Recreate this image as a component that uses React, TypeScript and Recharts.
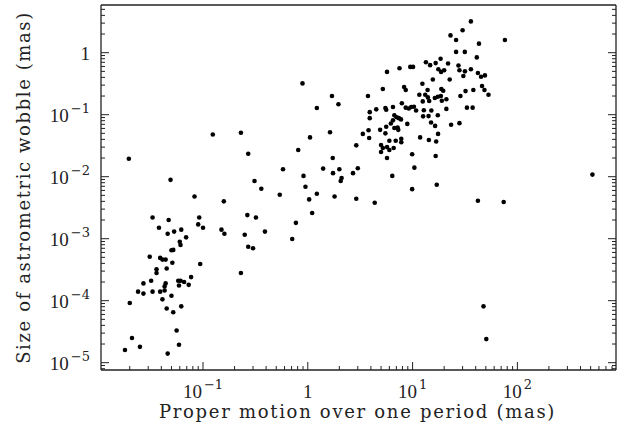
import React from 'react';
import { ScatterChart, Scatter, XAxis, YAxis } from 'recharts';

// proper motion over one period (mas)
const motion = [
  0.89, 36, 30, 23, 26, 43, 76, 26, 31.5, 41,
  13.4, 14.7, 16.6, 18.5, 21.8, 27.4, 17.6, 18.7, 20, 28,
  31.6, 36, 30.5, 42, 45, 49, 7.5, 9.5, 10.1, 5.7,
  15.6, 22.6, 12.4, 5.2, 8.3, 8.6, 13.9, 18.8, 19.6, 32,
  38, 46, 48.5, 53, 1.7, 3.75, 11.6, 13.2, 14, 14.4,
  12.5, 16.3, 17.4, 18.6, 19, 21, 28.6, 1.96, 1.22, 3.9,
  4.5, 5.5, 5.6, 6.5, 7.9, 8.6, 9.2, 9.7, 10.3, 10.8,
  3.9, 6.7, 7.05, 7.4, 7.75, 6.5, 6.2, 8.9, 5.6, 4.9,
  3.8, 3.35, 5.5, 6.7, 7.2, 7.3, 12.8, 14.2, 12.6, 15.1,
  17.4, 15, 16.4, 21, 23.3, 28, 33, 37.4, 1.63, 1.05,
  3.85, 7.8, 6.9, 7.8, 6, 5.0, 5.2, 5.0, 5.7, 6.0,
  6.6, 5.7, 11.8, 14.3, 16.8, 17.5, 2.9, 1.73, 9.9, 16.6,
  0.91, 0.95, 1.4, 1.74, 2.0, 2.1, 2.06, 2.7, 3.0, 6.4,
  10.4, 9.9, 17, 520, 1.03, 1.22, 1.8, 2.9, 4.35, 42,
  74, 1.1, 47.5, 50.5,
  0.0196, 0.124, 0.23, 0.27, 0.81, 0.58, 0.31, 0.36, 0.54, 0.158,
  0.083, 0.049, 0.033, 0.047, 0.092, 0.265, 0.32, 0.038, 0.062, 0.09,
  0.1, 0.046, 0.053, 0.069, 0.06, 0.061, 0.05, 0.052, 0.031, 0.039,
  0.041, 0.044, 0.051, 0.094, 0.036, 0.036, 0.045, 0.077, 0.032, 0.058,
  0.061, 0.066, 0.073, 0.059, 0.044, 0.043, 0.027, 0.024, 0.027, 0.033,
  0.039, 0.043, 0.05, 0.041, 0.02, 0.045, 0.062, 0.052, 0.056, 0.059,
  0.021, 0.025, 0.018, 0.046, 0.15, 0.16, 0.25, 0.27, 0.3, 0.39,
  0.71, 0.77, 0.23,
];

// size of astrometric wobble (mas)
const wobble = [
  0.32, 3.2, 2.3, 1.9, 1.6, 1.4, 1.6, 1.03, 1.03, 0.84,
  0.7, 0.63, 0.68, 0.8, 0.67, 0.62, 0.54, 0.49, 0.52, 0.52,
  0.5, 0.54, 0.42, 0.47, 0.41, 0.43, 0.56, 0.59, 0.59, 0.49,
  0.37, 0.37, 0.315, 0.26, 0.28, 0.25, 0.25, 0.26, 0.244, 0.24,
  0.25, 0.29, 0.25, 0.21, 0.2, 0.2, 0.21, 0.21, 0.19, 0.166,
  0.164, 0.186, 0.195, 0.2, 0.168, 0.177, 0.2, 0.147, 0.128, 0.11,
  0.122, 0.128, 0.12, 0.133, 0.153, 0.13, 0.126, 0.133, 0.134, 0.117,
  0.088, 0.098, 0.091, 0.088, 0.084, 0.081, 0.072, 0.071, 0.064, 0.057,
  0.056, 0.049, 0.05, 0.061, 0.062, 0.057, 0.118, 0.095, 0.094, 0.117,
  0.098, 0.075, 0.066, 0.124, 0.069, 0.073, 0.13, 0.13, 0.052, 0.043,
  0.042, 0.041, 0.038, 0.036, 0.038, 0.0325, 0.029, 0.025, 0.03, 0.027,
  0.029, 0.02, 0.043, 0.039, 0.037, 0.049, 0.032, 0.02, 0.023, 0.0216,
  0.0103, 0.0069, 0.0135, 0.0114, 0.0132, 0.0095, 0.0085, 0.0114, 0.0137, 0.0103,
  0.014, 0.0063, 0.0074, 0.0108, 0.0043, 0.0053, 0.0048, 0.0044, 0.0038, 0.0041,
  0.0039, 0.0026, 8.1e-5, 2.4e-5,
  0.0195, 0.048, 0.051, 0.0235, 0.027, 0.0132, 0.0085, 0.0064, 0.0051, 0.004,
  0.0048, 0.0089, 0.0022, 0.002, 0.0022, 0.0024, 0.0022, 0.0015, 0.0014, 0.0017,
  0.0015, 0.0012, 0.0013, 0.00105, 0.00089, 0.00079, 0.00065, 0.00066, 0.00051, 0.00049,
  0.00046, 0.00046, 0.00041, 0.00039, 0.00032, 0.00028, 0.00033, 0.00024, 0.00021, 0.00021,
  0.00021, 0.0002, 0.00018, 0.000176, 0.00019, 0.00017, 0.00019, 0.00014, 0.00013, 0.00014,
  0.00014, 0.000146, 0.00012, 0.000105, 9.2e-5, 7.5e-5, 8.1e-5, 6.5e-5, 3.3e-5, 1.95e-5,
  2.5e-5, 1.8e-5, 1.6e-5, 1.4e-5, 0.0014, 0.0012, 0.00116, 0.00074, 0.0007, 0.0013,
  0.00099, 0.0018, 0.00028,
];

const xDecades = [0.01, 0.1, 1, 10, 100];
const yDecades = [1e-6, 1e-5, 1e-4, 1e-3, 1e-2, 1e-1, 1];
const xDomain: [number, number] = [0.01063, 873];
const yDomain: [number, number] = [7.62e-6, 5.88];

const logTicks = (decades: number[], domain: [number, number]) =>
  decades
    .flatMap((d) => [1, 2, 3, 4, 5, 6, 7, 8, 9].map((m) => m * d))
    .filter((v) => v >= domain[0] && v <= domain[1]);

const xTicks = logTicks(xDecades, xDomain);
const yTicks = logTicks(yDecades, yDomain);

const points = motion.map((x, i) => ({ x, y: wobble[i] }));

const INK = '#222';
const TICK_FONT = '"Liberation Serif", serif';
const TITLE_FONT = '"DejaVu Serif", serif';

const isMajor = (v: number) => {
  const l = Math.log10(v);
  return Math.abs(l - Math.round(l)) < 1e-6;
};

const PowerLabel = ({ v, x, y, anchor }: any) => {
  const e = Math.round(Math.log10(v));
  return (
    <text x={x} y={y} textAnchor={anchor} fontFamily={TICK_FONT} fontSize={19} fill={INK}>
      {e === 0 ? (
        '1'
      ) : (
        <>
          <tspan>10</tspan>
          <tspan dy={-9} dx={2} fontSize={13} fontFamily={TITLE_FONT}>
            {e < 0 ? `\u2212${-e}` : `${e}`}
          </tspan>
        </>
      )}
    </text>
  );
};

// tick marks point into the frame; only decades get a label
const BottomTick = ({ x, y, payload }: any) => {
  const major = isMajor(payload.value);
  return (
    <g>
      <line x1={x} y1={y} x2={x} y2={y - (major ? 8 : 4)} stroke={INK} />
      {major && <PowerLabel v={payload.value} x={x} y={y + 28} anchor="middle" />}
    </g>
  );
};

const TopTick = ({ x, y, payload }: any) => (
  <line x1={x} y1={y} x2={x} y2={y + (isMajor(payload.value) ? 8 : 4)} stroke={INK} />
);

const LeftTick = ({ x, y, payload }: any) => {
  const major = isMajor(payload.value);
  return (
    <g>
      <line x1={x} y1={y} x2={x + (major ? 8 : 4)} y2={y} stroke={INK} />
      {major && <PowerLabel v={payload.value} x={x - 11} y={y + 7} anchor="end" />}
    </g>
  );
};

const RightTick = ({ x, y, payload }: any) => (
  <line x1={x} y1={y} x2={x - (isMajor(payload.value) ? 8 : 4)} y2={y} stroke={INK} />
);

const Dot = (props: any) => <circle cx={props.cx} cy={props.cy} r={2.3} fill="#000" />;

const axisLine = { stroke: INK, strokeWidth: 1.3 };

export default function App() {
  return (
    <div style={{ position: 'absolute', left: 0, top: 0, width: 628, height: 428, background: '#fff' }}>
      <ScatterChart width={628} height={428} margin={{ top: 4, right: 11, bottom: 57, left: 100 }}>
        <XAxis
          xAxisId="b"
          dataKey="x"
          type="number"
          scale="log"
          domain={xDomain}
          allowDataOverflow
          ticks={xTicks}
          interval={0}
          height={1}
          tickSize={0}
          tickMargin={0}
          tickLine={false}
          axisLine={axisLine}
          tick={<BottomTick />}
        />
        <XAxis
          xAxisId="t"
          orientation="top"
          type="number"
          scale="log"
          domain={xDomain}
          allowDataOverflow
          ticks={xTicks}
          interval={0}
          height={1}
          tickSize={0}
          tickMargin={0}
          tickLine={false}
          axisLine={axisLine}
          tick={<TopTick />}
        />
        <YAxis
          yAxisId="l"
          dataKey="y"
          type="number"
          scale="log"
          domain={yDomain}
          allowDataOverflow
          ticks={yTicks}
          interval={0}
          width={1}
          tickSize={0}
          tickMargin={0}
          tickLine={false}
          axisLine={axisLine}
          tick={<LeftTick />}
        />
        <YAxis
          yAxisId="r"
          orientation="right"
          type="number"
          scale="log"
          domain={yDomain}
          allowDataOverflow
          ticks={yTicks}
          interval={0}
          width={1}
          tickSize={0}
          tickMargin={0}
          tickLine={false}
          axisLine={axisLine}
          tick={<RightTick />}
        />
        <Scatter xAxisId="b" yAxisId="l" data={points} shape={Dot} isAnimationActive={false} />
      </ScatterChart>
      <svg width={628} height={428} style={{ position: 'absolute', left: 0, top: 0, pointerEvents: 'none' }}>
        <text x={357.5} y={418} textAnchor="middle" fontFamily={TITLE_FONT} fontSize={18} letterSpacing={1.7} fill={INK}>
          Proper motion over one period (mas)
        </text>
        <text
          x={30}
          y={187.5}
          transform="rotate(-90 30 187.5)"
          textAnchor="middle"
          fontFamily={TITLE_FONT}
          fontSize={18}
          letterSpacing={1.6}
          fill={INK}
        >
          Size of astrometric wobble (mas)
        </text>
      </svg>
    </div>
  );
}
